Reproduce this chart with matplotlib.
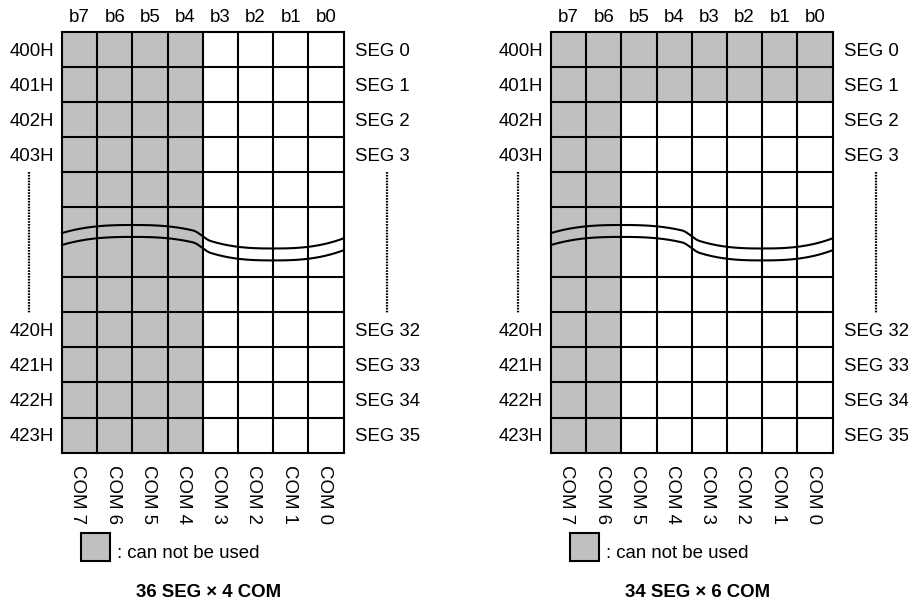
import matplotlib
matplotlib.use('Agg')
import matplotlib.pyplot as plt
from matplotlib.patches import Rectangle
import numpy as np

plt.rcParams['font.family'] = ['Liberation Sans', 'DejaVu Sans']

# ---------------- data ----------------
bit_labels = ['b7', 'b6', 'b5', 'b4', 'b3', 'b2', 'b1', 'b0']
com_labels = ['COM 7', 'COM 6', 'COM 5', 'COM 4', 'COM 3', 'COM 2', 'COM 1', 'COM 0']
address_labels = ['400H', '401H', '402H', '403H', '', '', '', '',
                  '420H', '421H', '422H', '423H']
seg_labels = ['SEG 0', 'SEG 1', 'SEG 2', 'SEG 3', '', '', '', '',
              'SEG 32', 'SEG 33', 'SEG 34', 'SEG 35']
panel_titles = ['36 SEG × 4 COM', '34 SEG × 6 COM']
unused_bits = [['b7', 'b6', 'b5', 'b4'], ['b7', 'b6']]
unused_rows = [[], ['400H', '401H']]
legend_text = ': can not be used'

# ---------------- layout ----------------
W, H, DPI = 908, 600, 100
CW, RH = 35.2, 35.08          # cell width / height in px
GRID_TOP = 31.7
panel_left_px = [62, 97]      # grid left edge inside each half (px)
BREAK_ROW = 6                 # horizontal line omitted here (break)
GREY = '#c0c0c0'
LW = 1.5
FS = 13.4

fig = plt.figure(figsize=(W / DPI, H / DPI), dpi=DPI)
fig.patch.set_facecolor('white')


def wave_upper(x):
    x = np.asarray(x, dtype=float)
    g_end, g_peak = 5.74, 5.51
    w_end, w_low = 5.89, 6.18
    x0, x1 = 3.72, 4.22
    P = 2.6

    def grey(xx):
        t = np.abs((xx - 2) / 2)
        return g_end - (g_end - g_peak) * (1 - t ** P)

    def grey_d(xx):
        t = (xx - 2) / 2
        return (g_end - g_peak) * P * np.sign(t) * np.abs(t) ** (P - 1) / 2

    def white(xx):
        t = np.abs((xx - 6) / 2)
        return w_end + (w_low - w_end) * (1 - t ** P)

    def white_d(xx):
        t = (xx - 6) / 2
        return -(w_low - w_end) * P * np.sign(t) * np.abs(t) ** (P - 1) / 2

    y = np.empty_like(x)
    m = x <= x0
    y[m] = grey(x[m])
    m2 = x >= x1
    y[m2] = white(x[m2])
    mid = (~m) & (~m2)
    s = (x[mid] - x0) / (x1 - x0)
    dx = x1 - x0
    h00 = 2 * s ** 3 - 3 * s ** 2 + 1
    h10 = s ** 3 - 2 * s ** 2 + s
    h01 = -2 * s ** 3 + 3 * s ** 2
    h11 = s ** 3 - s ** 2
    y[mid] = (h00 * grey(x0) + h10 * dx * grey_d(x0)
              + h01 * white(x1) + h11 * dx * white_d(x1))
    return y


n_cols = len(bit_labels)
n_rows = len(address_labels)

for p in range(2):
    ax = fig.add_axes([0.5 * p, 0, 0.5, 1])
    gl = panel_left_px[p]
    ax.set_xlim(-gl / CW, (W / 2 - gl) / CW)
    ax.set_ylim((H - GRID_TOP) / RH, -GRID_TOP / RH)
    ax.axis('off')

    # cells
    for r, addr in enumerate(address_labels):
        for c, b in enumerate(bit_labels):
            used = not (b in unused_bits[p] or
                        (addr and addr in unused_rows[p]))
            ax.add_patch(Rectangle((c, r), 1, 1,
                                   facecolor='white' if used else GREY,
                                   edgecolor='none', zorder=1))

    # grid lines
    for c in range(n_cols + 1):
        ax.plot([c, c], [0, n_rows], color='black', lw=LW, zorder=3,
                solid_capstyle='projecting')
    for r in range(n_rows + 1):
        if r == BREAK_ROW:
            continue
        ax.plot([0, n_cols], [r, r], color='black', lw=LW, zorder=3,
                solid_capstyle='projecting')

    # break curves
    xs = np.linspace(0, n_cols, 600)
    yu = wave_upper(xs)
    ax.plot(xs, yu, color='black', lw=LW, zorder=4)
    ax.plot(xs, yu + 0.34, color='black', lw=LW, zorder=4)

    # top bit labels
    for c, b in enumerate(bit_labels):
        ax.text(c + 0.5, -0.285, b, ha='center', va='baseline', fontsize=FS)

    # row labels
    for r, (addr, seg) in enumerate(zip(address_labels, seg_labels)):
        if addr:
            ax.text(-0.23, r + 0.5 + 0.18, addr, ha='right', va='baseline',
                    fontsize=FS)
        if seg:
            ax.text(n_cols + 0.31, r + 0.5 + 0.18, seg, ha='left',
                    va='baseline', fontsize=FS)

    # dotted continuation lines
    ax.plot([-0.93, -0.93], [4.0, 8.03], color='black', lw=1.6,
            linestyle=(0, (0.75, 0.55)), zorder=3)
    ax.plot([n_cols + 1.22, n_cols + 1.22], [4.0, 8.03], color='black',
            lw=1.6, linestyle=(0, (0.75, 0.55)), zorder=3)

    # COM labels
    for c, com in enumerate(com_labels):
        ax.text(c + 0.45, n_rows + 0.35, com, ha='center', va='top',
                rotation=270, fontsize=FS)

    # legend
    ax.add_patch(Rectangle((0.545, 14.28), 0.832, 0.807, facecolor=GREY,
                           edgecolor='black', lw=LW, zorder=3))
    ax.text(1.56, 14.99, legend_text, ha='left', va='baseline', fontsize=FS)

    # title
    ax.text(4.16, 16.11, panel_titles[p], ha='center', va='baseline',
            fontsize=FS, fontweight='bold')

fig.savefig('out.png', dpi=DPI, facecolor='white')
